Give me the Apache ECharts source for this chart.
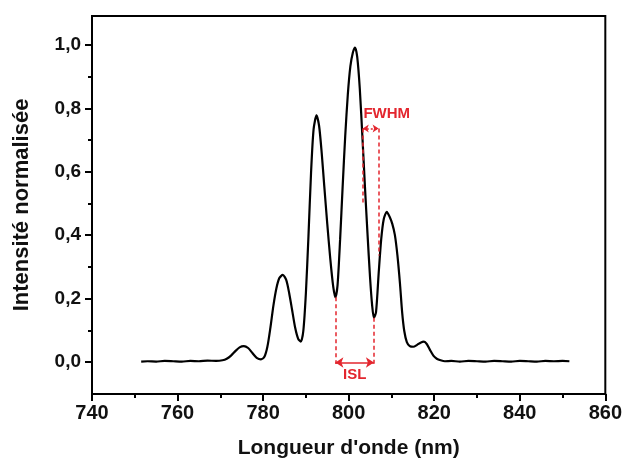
<!DOCTYPE html>
<html><head><meta charset="utf-8">
<script src="https://cdn.jsdelivr.net/npm/echarts@6/dist/echarts.min.js"></script>
<style>html,body{margin:0;padding:0;background:#fff}#c{width:625px;height:464px}</style>
</head><body><div id="c"></div>
<script>
const wavelengths = [751.5,753,755,757,759,761,763,765,767,769,770.5,771.5,772.5,773.5,774.5,775.5,776.5,777.5,778.5,779.5,780.3,781,781.7,782.4,783.1,783.8,784.6,785.4,786.1,786.8,787.5,788.2,788.8,789.4,790,790.6,791.2,791.8,792.5,793.1,793.7,794.3,795,795.7,796.4,796.9,797.4,798,798.6,799.2,799.8,800.4,801,801.5,802,802.6,803.2,803.8,804.4,805,805.5,805.9,806.4,807,807.6,808.2,808.9,809.6,810.2,810.8,811.4,812,812.5,813,813.6,814.3,815.1,816,816.8,817.6,818.3,819,819.8,820.6,821.5,822.5,824,826,828,830,832,834,836,838,840,842,844,846,848,850,851.6];
const intensity = [0.003,0.004,0.003,0.005,0.004,0.003,0.005,0.004,0.006,0.005,0.007,0.012,0.022,0.036,0.048,0.052,0.046,0.03,0.015,0.01,0.018,0.05,0.11,0.18,0.235,0.268,0.278,0.262,0.22,0.165,0.11,0.075,0.066,0.1,0.22,0.4,0.6,0.74,0.785,0.75,0.665,0.56,0.44,0.33,0.24,0.207,0.245,0.39,0.56,0.72,0.85,0.94,0.985,1.0,0.97,0.87,0.72,0.56,0.41,0.27,0.18,0.142,0.16,0.28,0.39,0.455,0.478,0.462,0.44,0.405,0.34,0.25,0.16,0.1,0.065,0.052,0.05,0.056,0.063,0.066,0.058,0.04,0.022,0.012,0.007,0.004,0.005,0.003,0.005,0.004,0.003,0.005,0.004,0.003,0.005,0.004,0.003,0.005,0.004,0.005,0.004];
const xTicks = [740, 760, 780, 800, 820, 840, 860];
const yTicks = [0, 0.2, 0.4, 0.6, 0.8, 1.0];
const islBounds = [796.9, 805.9];
const islTop = [0.207, 0.142];
const fwhmBounds = [803.3, 807.0];
const fwhmLevel = 0.743;
const fwhmBottom = [0.5, 0.34];

const RED = '#e3262e';
const FONT = '"Liberation Sans", Arial, sans-serif';
const chart = echarts.init(document.getElementById('c'), null, {renderer: 'canvas'});
const dashed = {color: RED, width: 1.5, type: [4, 3]};
const pt = (x, y, s) => ({coord: [x, y], symbol: s || 'none'});
chart.setOption({
  animation: false,
  backgroundColor: '#fff',
  grid: [
    {left: 92, right: 19, top: 16, bottom: 69, show: true, borderColor: '#000', borderWidth: 2, backgroundColor: 'transparent'},
    {left: 92, right: 19, top: 45, bottom: 102}
  ],
  xAxis: [
    {type: 'value', gridIndex: 0, min: xTicks[0], max: xTicks[xTicks.length - 1], interval: 20,
     axisLine: {show: true, onZero: false, lineStyle: {color: '#000', width: 2}},
     axisTick: {show: true, inside: false, length: 7, lineStyle: {color: '#000', width: 2}},
     minorTick: {show: true, splitNumber: 2, length: 4, lineStyle: {color: '#000', width: 2}},
     splitLine: {show: false},
     axisLabel: {margin: 9, color: '#111', fontSize: 20, fontWeight: 'bold', fontFamily: FONT},
     name: "Longueur d'onde (nm)", nameLocation: 'middle', nameGap: 44,
     nameTextStyle: {color: '#111', fontSize: 21, fontWeight: 'bold', fontFamily: FONT}},
    {type: 'value', gridIndex: 1, min: 740, max: 860, show: false}
  ],
  yAxis: [
    {type: 'value', gridIndex: 0, min: -0.1, max: 1.1,
     axisLine: {show: true, onZero: false, lineStyle: {color: '#000', width: 2}},
     axisTick: {show: false}, axisLabel: {show: false}, splitLine: {show: false},
     name: 'Intensité normalisée', nameLocation: 'middle', nameGap: 59,
     nameTextStyle: {color: '#111', fontSize: 22, fontWeight: 'bold', fontFamily: FONT}},
    {type: 'value', gridIndex: 1, min: yTicks[0], max: yTicks[yTicks.length - 1], interval: 0.2,
     axisLine: {show: false},
     axisTick: {show: true, inside: false, length: 7, lineStyle: {color: '#000', width: 2}},
     minorTick: {show: true, splitNumber: 2, length: 4, lineStyle: {color: '#000', width: 2}},
     splitLine: {show: false},
     axisLabel: {margin: 11, color: '#111', fontSize: 19, fontWeight: 'bold', fontFamily: FONT,
       formatter: v => v.toFixed(1).replace('.', ',')}}
  ],
  series: [{
    type: 'line', xAxisIndex: 0, yAxisIndex: 0,
    data: wavelengths.map((w, i) => [w, intensity[i]]),
    showSymbol: false, smooth: 0.25,
    lineStyle: {color: '#000', width: 2.2},
    itemStyle: {color: '#000'},
    markLine: {
      silent: true, animation: false, symbolSize: 8,
      label: {show: false},
      data: [
        [Object.assign(pt(islBounds[0], islTop[0]), {lineStyle: dashed}), pt(islBounds[0], -0.005)],
        [Object.assign(pt(islBounds[1], islTop[1]), {lineStyle: dashed}), pt(islBounds[1], -0.005)],
        [Object.assign(pt(islBounds[0], 0, 'arrow'), {lineStyle: {color: RED, width: 1.5, type: 'solid'}}), pt(islBounds[1], 0, 'arrow')],
        [Object.assign(pt(fwhmBounds[0], fwhmLevel), {lineStyle: dashed}), pt(fwhmBounds[0], fwhmBottom[0])],
        [Object.assign(pt(fwhmBounds[1], fwhmLevel), {lineStyle: dashed}), pt(fwhmBounds[1], fwhmBottom[1])],
        [Object.assign(pt(fwhmBounds[0], fwhmLevel, 'arrow'), {lineStyle: {color: RED, width: 1.5, type: [2, 2]}, symbolSize: 6}), Object.assign(pt(fwhmBounds[1], fwhmLevel, 'arrow'), {symbolSize: 6})]
      ]
    },
    markPoint: {
      silent: true, symbol: 'circle', symbolSize: 1,
      itemStyle: {color: 'rgba(0,0,0,0)'},
      data: [
        {coord: [801.4, -0.04], label: {show: true, position: 'inside', formatter: 'ISL', color: RED, fontSize: 15, fontWeight: 'bold', fontFamily: FONT}},
        {coord: [808.9, 0.788], label: {show: true, position: 'inside', formatter: 'FWHM', color: RED, fontSize: 15, fontWeight: 'bold', fontFamily: FONT}}
      ]
    }
  }]
});
</script></body></html>
